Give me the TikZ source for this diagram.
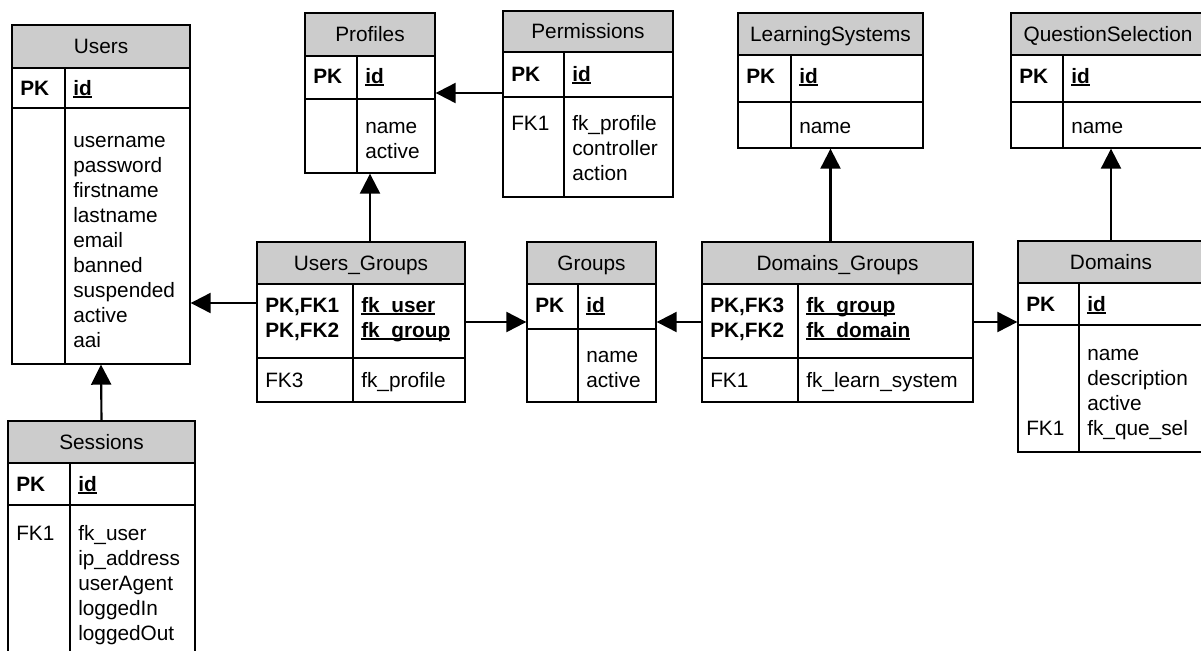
\documentclass[tikz,border=0pt]{standalone}
\usepackage{fontspec}
\setmainfont{Liberation Sans}
\usetikzlibrary{arrows.meta}
\usetikzlibrary{fit}

\newcommand{\erfont}{\fontsize{15.6}{18.75}\selectfont}
\newcommand{\pkfield}[1]{\setbox0\hbox{\bfseries #1}\rlap{\rule[-2.2pt]{\wd0}{1.1pt}}\box0}

\tikzset{
  tbl/.style={draw, line width=1pt, inner sep=0pt},
  ttl/.style={tbl, fill=gray!40},
  ttltext/.style={inner sep=0pt, text height=11.2pt, text depth=0pt},
  fld/.style={anchor=base west, inner sep=0pt},
  key/.style={fld, font=\erfont\bfseries},
  sep/.style={line width=1pt},
  fk/.style={line width=1.6pt, -{Triangle[length=15pt,width=15pt]}},
}

\begin{document}
\begin{tikzpicture}
	[x=0.75pt, y=-0.75pt, font=\erfont]
	\useasboundingbox (0,0) rectangle (1201,650);
	\clip (0,0) rectangle (1201,650);

	% Users
	\node[tbl, fit={(12,25) (190,364)}] (users) {};
	\node[ttl, fit={(12,25) (190,68)}, label={[ttltext]center:Users}] (users-t) {};
	\draw[sep] (12,108) -- (190,108) (65,68) -- (65,364);
	\node[key] (users-pk) at (20,95) {PK};
	\node[fld] (users-id) at (73,95) {\pkfield{id}};
	\foreach \f [count=\i from 0] in {username,password,firstname,lastname,email,banned,suspended,active,aai}
		\node[fld] (users-f\i) at (73,{147+25*\i}) {\f};

	% Sessions
	\node[tbl, fit={(8,421) (195,680)}] (sessions) {};
	\node[ttl, fit={(8,421) (195,463)}, label={[ttltext]center:Sessions}] (sessions-t) {};
	\draw[sep] (8,505) -- (195,505) (70,463) -- (70,680);
	\node[key] (sessions-pk) at (16,491) {PK};
	\node[fld] (sessions-id) at (78,491) {\pkfield{id}};
	\node[fld] (sessions-fk) at (16,540) {FK1};
	\foreach \f [count=\i from 0] in {fk\_user,ip\_address,userAgent,loggedIn,loggedOut}
		\node[fld] (sessions-f\i) at (78,{540+25*\i}) {\f};

	% Profiles
	\node[tbl, fit={(305,13) (435,173)}] (profiles) {};
	\node[ttl, fit={(305,13) (435,56)}, label={[ttltext]center:Profiles}] (profiles-t) {};
	\draw[sep] (305,99) -- (435,99) (357,56) -- (357,173);
	\node[key] (profiles-pk) at (313,83) {PK};
	\node[fld] (profiles-id) at (365,83) {\pkfield{id}};
	\foreach \f [count=\i from 0] in {name,active}
		\node[fld] (profiles-f\i) at (365,{133+25*\i}) {\f};

	% Permissions
	\node[tbl, fit={(503,11) (673,197)}] (perm) {};
	\node[ttl, fit={(503,11) (673,52)}, label={[ttltext]center:Permissions}] (perm-t) {};
	\draw[sep] (503,97) -- (673,97) (564,52) -- (564,197);
	\node[key] (perm-pk) at (511,81) {PK};
	\node[fld] (perm-id) at (572,81) {\pkfield{id}};
	\node[fld] (perm-fk) at (511,130) {FK1};
	\foreach \f [count=\i from 0] in {fk\_profile,controller,action}
		\node[fld] (perm-f\i) at (572,{130+25*\i}) {\f};

	% Users_Groups
	\node[tbl, fit={(257,242) (465,402)}] (ug) {};
	\node[ttl, fit={(257,242) (465,284)}, label={[ttltext]center:Users\_Groups}] (ug-t) {};
	\draw[sep] (257,358) -- (465,358) (353,284) -- (353,402);
	\node[key] (ug-k1) at (265,312) {PK,FK1};
	\node[key] (ug-k2) at (265,337) {PK,FK2};
	\node[fld] (ug-f1) at (361,312) {\pkfield{fk\_user}};
	\node[fld] (ug-f2) at (361,337) {\pkfield{fk\_group}};
	\node[fld] (ug-k3) at (265,387) {FK3};
	\node[fld] (ug-f3) at (361,387) {fk\_profile};

	% Groups
	\node[tbl, fit={(527,242) (656,402)}] (groups) {};
	\node[ttl, fit={(527,242) (656,284)}, label={[ttltext]center:Groups}] (groups-t) {};
	\draw[sep] (527,329) -- (656,329) (578,284) -- (578,402);
	\node[key] (groups-pk) at (535,312) {PK};
	\node[fld] (groups-id) at (586,312) {\pkfield{id}};
	\foreach \f [count=\i from 0] in {name,active}
		\node[fld] (groups-f\i) at (586,{362+25*\i}) {\f};

	% LearningSystems
	\node[tbl, fit={(738,13) (923,148)}] (ls) {};
	\node[ttl, fit={(738,13) (923,55)}, label={[ttltext]center:LearningSystems}] (ls-t) {};
	\draw[sep] (738,102) -- (923,102) (791,55) -- (791,148);
	\node[key] (ls-pk) at (746,83) {PK};
	\node[fld] (ls-id) at (799,83) {\pkfield{id}};
	\node[fld] (ls-f0) at (799,133) {name};

	% QuestionSelection
	\node[tbl, fit={(1011,13) (1205,148)}] (qs) {};
	\node[ttl, fit={(1011,13) (1205,55)}, label={[ttltext]center:QuestionSelection}] (qs-t) {};
	\draw[sep] (1011,102) -- (1205,102) (1063,55) -- (1063,148);
	\node[key] (qs-pk) at (1019,83) {PK};
	\node[fld] (qs-id) at (1071,83) {\pkfield{id}};
	\node[fld] (qs-f0) at (1071,133) {name};

	% Domains_Groups
	\node[tbl, fit={(702,242) (973,402)}] (dg) {};
	\node[ttl, fit={(702,242) (973,284)}, label={[ttltext]center:Domains\_Groups}] (dg-t) {};
	\draw[sep] (702,358) -- (973,358) (798,284) -- (798,402);
	\node[key] (dg-k1) at (710,312) {PK,FK3};
	\node[key] (dg-k2) at (710,337) {PK,FK2};
	\node[fld] (dg-f1) at (806,312) {\pkfield{fk\_group}};
	\node[fld] (dg-f2) at (806,337) {\pkfield{fk\_domain}};
	\node[fld] (dg-k3) at (710,387) {FK1};
	\node[fld] (dg-f3) at (806,387) {fk\_learn\_system};

	% Domains
	\node[tbl, fit={(1018,241) (1204,452)}] (domains) {};
	\node[ttl, fit={(1018,241) (1204,283)}, label={[ttltext]center:Domains}] (domains-t) {};
	\draw[sep] (1018,325) -- (1204,325) (1079,283) -- (1079,452);
	\node[key] (domains-pk) at (1026,311) {PK};
	\node[fld] (domains-id) at (1087,311) {\pkfield{id}};
	\node[fld] (domains-fk) at (1026,435) {FK1};
	\foreach \f [count=\i from 0] in {name,description,active,fk\_que\_sel}
		\node[fld] (domains-f\i) at (1087,{360+25*\i}) {\f};

	% foreign keys
	\draw[fk] (sessions.north) -- (users.south);
	\draw[fk] (ug.west |- 0,303) -- (users.east |- 0,303);
	\draw[fk] (ug.north -| profiles.south) -- (profiles.south);
	\draw[fk] (perm.west |- 0,93) -- (profiles.east |- 0,93);
	\draw[fk] (ug.east) -- (groups.west |- ug.east);
	\draw[fk] (dg.west) -- (groups.east |- dg.west);
	\draw[fk] (dg.north -| ls.south) -- (ls.south);
	\draw[fk] (dg.east) -- (domains.west |- dg.east);
	\draw[fk] (domains.north) -- (qs.south -| domains.north);
\end{tikzpicture}
\end{document}
